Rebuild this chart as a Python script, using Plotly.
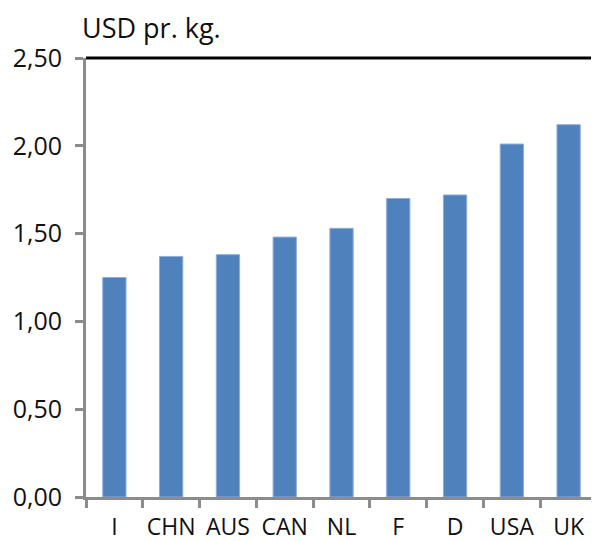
import plotly.graph_objects as go

categories = ["I", "CHN", "AUS", "CAN", "NL", "F", "D", "USA", "UK"]
values = [1.25, 1.37, 1.38, 1.48, 1.53, 1.70, 1.72, 2.01, 2.12]
y_ticks = [0, 0.5, 1.0, 1.5, 2.0, 2.5]
y_tick_labels = ["0,00", "0,50", "1,00", "1,50", "2,00", "2,50"]
y_title = "USD pr. kg."

font_family = "Open Sans, DejaVu Sans, sans-serif"

# the page body has an 8px default margin, so the figure is sized to fit
fig = go.Figure(go.Bar(
    x=categories, y=values,
    marker=dict(color="#4F81BD", line=dict(color="#8DAEDA", width=1)),
    width=0.41,
))

fig.update_layout(
    width=591, height=533,
    margin=dict(l=78, r=2, t=50, b=44),
    paper_bgcolor="white", plot_bgcolor="white",
    showlegend=False,
    font=dict(family=font_family, size=23, color="#111111"),
)
fig.update_xaxes(
    automargin=False, tickangle=0,
    showgrid=False, showline=True, linecolor="#8c8c8c", linewidth=3,
    ticks="outside", tickson="boundaries", ticklen=8, tickwidth=3, tickcolor="#8c8c8c",
    tickfont=dict(size=23), ticklabelstandoff=7,
)
fig.update_yaxes(
    automargin=False,
    range=[0, 2.5], tickvals=y_ticks, ticktext=y_tick_labels,
    showgrid=False, showline=True, linecolor="#8c8c8c", linewidth=3,
    ticks="outside", ticklen=8, tickwidth=3, tickcolor="#8c8c8c",
    tickfont=dict(size=25), ticklabelstandoff=8, zeroline=False,
)
fig.add_shape(type="line", xref="paper", yref="paper", x0=0, x1=1, y0=1, y1=1,
              line=dict(color="black", width=3))
fig.add_shape(type="line", xref="paper", yref="paper", x0=1, x1=1, y0=0, y1=1,
              line=dict(color="black", width=3))
fig.add_annotation(text=y_title, xref="paper", yref="paper", x=-0.012, y=1,
                   xanchor="left", yanchor="bottom", showarrow=False, yshift=10,
                   font=dict(size=27, family=font_family, color="#111111"))

fig.write_html("out.html")
